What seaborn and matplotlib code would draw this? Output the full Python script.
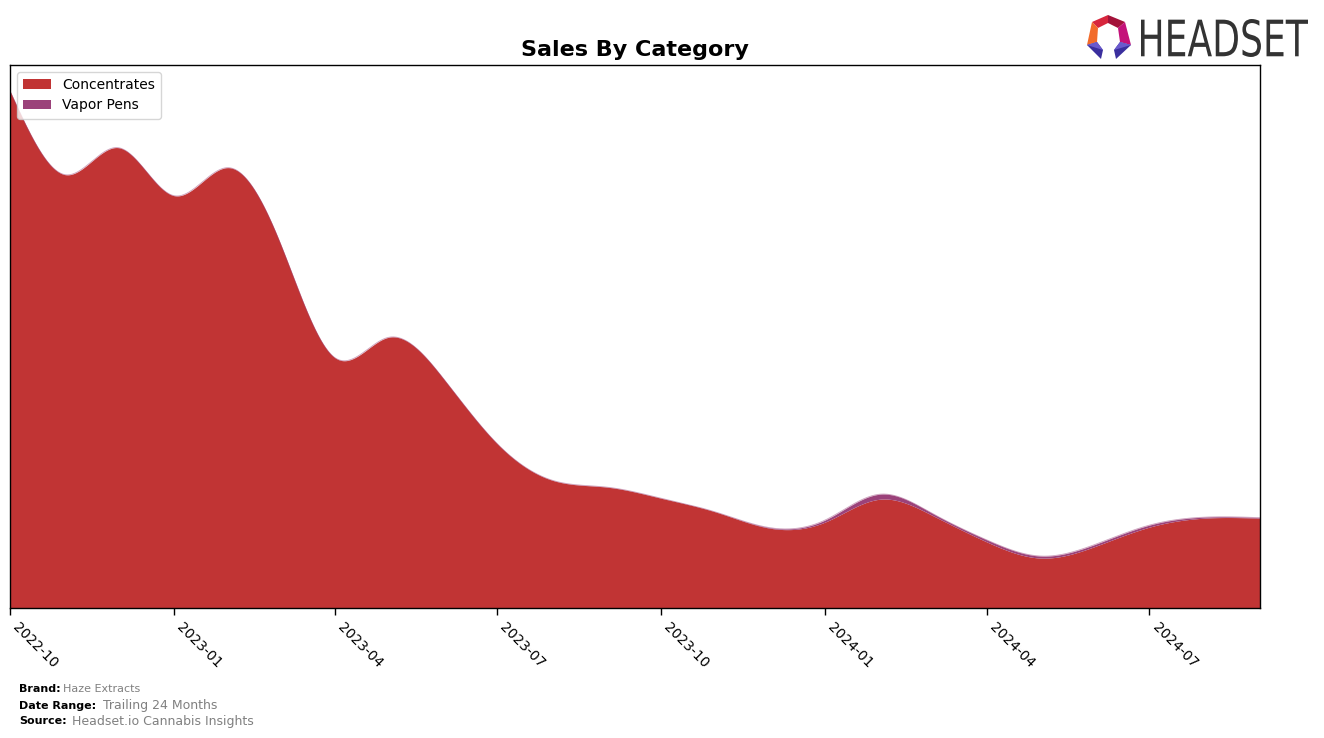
import numpy as np
import pandas as pd
import matplotlib
matplotlib.use("Agg")
import matplotlib.pyplot as plt
import matplotlib.dates as mdates
from matplotlib.textpath import TextPath
from matplotlib.patches import PathPatch, Polygon
from matplotlib.font_manager import FontProperties
from matplotlib.transforms import Affine2D
import seaborn as sns

# ---------------- data ----------------
months = pd.date_range("2022-10-01", "2024-09-01", freq="MS")
concentrates = [518, 434, 461, 413, 441, 368, 251, 271, 230, 165, 128, 121,
                110, 96, 80, 86, 109, 93, 66, 50, 62, 81, 90, 90]
vapor_pens = [0, 0, 0, 0, 0, 0, 0, 0, 0, 0, 0, 0,
              0, 0, 0.5, 2, 5, 2, 2, 2, 2, 2, 1, 0.5]
categories = ["Concentrates", "Vapor Pens"]
colors = ["#c13434", "#9b427a"]
tick_labels = ["2022-10", "2023-01", "2023-04", "2023-07", "2023-10",
               "2024-01", "2024-04", "2024-07"]

# ---------------- smoothing (natural cubic spline) ----------------
def natural_cubic(x, y, xs):
    x = np.asarray(x, float); y = np.asarray(y, float)
    n = len(x); h = np.diff(x)
    A = np.zeros((n, n)); b = np.zeros(n)
    A[0, 0] = 1; A[-1, -1] = 1
    for i in range(1, n - 1):
        A[i, i - 1] = h[i - 1]
        A[i, i] = 2 * (h[i - 1] + h[i])
        A[i, i + 1] = h[i]
        b[i] = 3 * ((y[i + 1] - y[i]) / h[i] - (y[i] - y[i - 1]) / h[i - 1])
    c = np.linalg.solve(A, b)
    bb = (y[1:] - y[:-1]) / h - h * (2 * c[:-1] + c[1:]) / 3
    d = (c[1:] - c[:-1]) / (3 * h)
    idx = np.clip(np.searchsorted(x, xs, side="right") - 1, 0, n - 2)
    dx = xs - x[idx]
    return y[idx] + bb[idx] * dx + c[idx] * dx ** 2 + d[idx] * dx ** 3

xnum = mdates.date2num(months)
xs = np.linspace(xnum[0], xnum[-1], 1500)
conc_s = np.clip(natural_cubic(xnum, concentrates, xs), 0, None)
vape_s = np.clip(natural_cubic(xnum, vapor_pens, xs), 0, None)

# ---------------- style ----------------
sns.set_theme(style="ticks")
plt.rcParams["font.family"] = ["DejaVu Sans"]
plt.rcParams["axes.edgecolor"] = "black"
plt.rcParams["axes.linewidth"] = 1.0
plt.rcParams["text.color"] = "black"
plt.rcParams["axes.labelcolor"] = "black"
plt.rcParams["xtick.color"] = "black"
plt.rcParams["ytick.color"] = "black"

fig = plt.figure(figsize=(13.24, 7.38), dpi=100)
ax = fig.add_axes([10 / 1324, 1 - 608 / 738, 1250 / 1324, 543 / 738])

xs_dates = mdates.num2date(xs)
ax.stackplot(xs_dates, conc_s, vape_s, colors=colors, labels=categories,
             linewidth=0)
df = pd.DataFrame({"date": xs_dates, "top": conc_s + vape_s})
sns.lineplot(data=df, x="date", y="top", ax=ax, color="#9b427a",
             linewidth=0.6, alpha=0.5, legend=False)

ax.set_xlim(xnum[0], xnum[-1])
ax.set_ylim(0, (conc_s + vape_s).max() * 1.05)
ax.set_yticks([])
ax.set_xlabel(""); ax.set_ylabel("")
ticks = mdates.date2num(pd.to_datetime([t + "-01" for t in tick_labels]))
ax.set_xticks(ticks)
ax.set_xticklabels(tick_labels, rotation=-45, ha="left", fontsize=10,
                   color="black")
ax.tick_params(axis="x", length=5, width=1, pad=4, colors="black")
for s in ax.spines.values():
    s.set_visible(True); s.set_color("black"); s.set_linewidth(1)

leg = ax.legend(loc="upper left", fontsize=10, frameon=True,
                handlelength=2.0, borderpad=0.45, labelspacing=0.45,
                bbox_to_anchor=(0.0, 1.0))
leg.get_frame().set_edgecolor("#cccccc")
leg.get_frame().set_linewidth(1)
for t in leg.get_texts():
    t.set_color("black")

fig.text(635 / 1324, 1 - 50 / 738, "Sales By Category", ha="center", va="center",
         fontsize=16, fontweight="bold", color="black")

# ---------------- footer ----------------
fig.text(19 / 1324, 1 - 689 / 738, "Brand:", fontsize=8, fontweight="bold", va="center", color="black")
fig.text(63 / 1324, 1 - 689 / 738, "Haze Extracts", fontsize=8, color="#808080", va="center")
fig.text(19 / 1324, 1 - 706 / 738, "Date Range:", fontsize=8, fontweight="bold", va="center", color="black")
fig.text(103 / 1324, 1 - 706 / 738, "Trailing 24 Months", fontsize=9, color="#808080", va="center")
fig.text(19 / 1324, 1 - 721 / 738, "Source:", fontsize=8, fontweight="bold", va="center", color="black")
fig.text(72 / 1324, 1 - 721 / 738, "Headset.io Cannabis Insights", fontsize=9, color="#808080", va="center")

# ---------------- logo ----------------
W, H = 1324.0, 738.0
tp = TextPath((0, 0), "HEADSET", size=100, prop=FontProperties(family="DejaVu Sans"))
bb = tp.get_extents()
x0, x1, y0, y1 = 1141, 1308, 19, 57
sx = (x1 - x0) / bb.width
sy = (y1 - y0) / bb.height
tr = Affine2D().translate(-bb.x0, -bb.y0).scale(sx / W, sy / H).translate(x0 / W, 1 - y1 / H)
fig.patches.append(PathPatch(tr.transform_path(tp), facecolor="#333333",
                             edgecolor="none", transform=fig.transFigure))

def P(pts, color):
    fig.patches.append(Polygon([(px / W, 1 - py / H) for px, py in pts], closed=True,
                               facecolor=color, edgecolor="none",
                               transform=fig.transFigure))

P([(1092, 22), (1108, 15), (1108, 23), (1098, 28)], "#d7263d")
P([(1108, 15), (1125, 22), (1118, 28), (1108, 23)], "#a3123a")
P([(1092, 22), (1098, 28), (1097, 42), (1087, 45)], "#f26b2a")
P([(1125, 22), (1131, 45), (1120, 42), (1118, 28)], "#c4127a")
P([(1087, 45), (1097, 42), (1103, 50), (1101, 59)], "#3a2f9e")
P([(1131, 45), (1120, 42), (1114, 50), (1116, 59)], "#3a2f9e")
P([(1087, 45), (1097, 42), (1103, 50)], "#6a5acd")
P([(1131, 45), (1120, 42), (1114, 50)], "#6a5acd")

fig.savefig("out.png", dpi=100)
